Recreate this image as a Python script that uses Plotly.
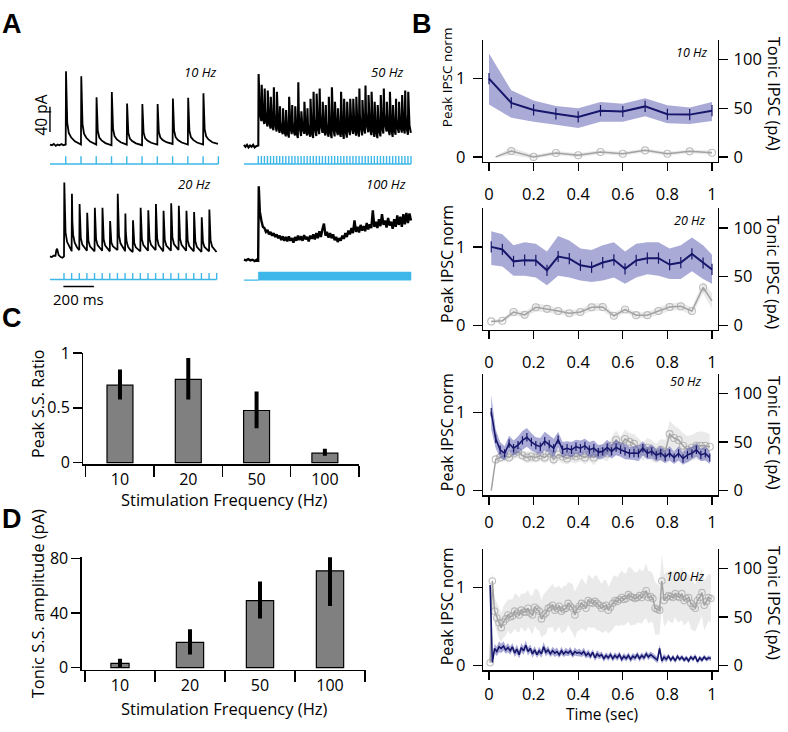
import plotly.graph_objects as go

# ======================= DATA =======================
# ---- Panel A: example traces (ms, pA) ----
stim10 = list(range(0, 1001, 100))
peak10 = [117, 109, 76, 84, 66, 65, 65, 74, 75, 82]
trough10 = [0, 1, 1, 0, 1, 0, 1, 2, 1, 1, 1]
pre10_t = [-103, -90, -78, -65, -52, -40, -28, -15, -4]
pre10_v = [1, 0, 2, -1, 1, 0, 2, 0, 1]

stim20 = list(range(0, 1001, 50))
peak20 = [117, 99, 83, 69, 77, 77, 56, 99, 68, 57,
          77, 73, 83, 72, 84, 80, 72, 70, 62, 74]
trough20 = [0, 9, 10, 9, 8, 9, 8, 10, 9, 7,
            8, 9, 10, 8, 9, 10, 9, 8, 7, 8, 7]
pre20_t = [-92, -80, -68, -56, -50, -45, -35, -22, -10, -2]
pre20_v = [0, -1, 1, 1, 10, 12, 2, -1, -2, -1]

stim50 = list(range(0, 1001, 20))
peak50 = [113, 96, 90, 87, 77, 92, 85, 62, 59, 56,
          77, 64, 62, 100, 54, 69, 59, 74, 85, 82,
          90, 69, 64, 77, 92, 69, 59, 85, 74, 69,
          74, 74, 77, 90, 72, 95, 80, 85, 69, 64,
          80, 90, 69, 85, 64, 74, 69, 80, 87, 85]
trough50 = [0, 40, 34, 30, 28, 24, 22, 20, 18, 16,
            14, 18, 16, 12, 15, 20, 16, 14, 12, 15,
            18, 20, 16, 14, 13, 16, 18, 15, 12, 14,
            18, 20, 17, 14, 16, 19, 21, 18, 15, 13,
            16, 19, 22, 18, 15, 17, 20, 22, 19, 17, 20]
pre50_t = [-94, -84, -74, -64, -54, -44, -34, -24, -14, -4]
pre50_v = [1, -2, 1, -3, 0, -2, 1, -3, -1, 0]

stim100_on = [0, 1000]
t100 = [-94, -80, -66, -52, -38, -24, -10, -1, 3] + list(range(10, 1001, 10))
v100 = [0, -1, 1, -1, 0, -2, 0, -1,
        116, 76, 62, 52, 50, 44, 47, 40, 44, 38,
        42, 36, 40, 34, 38, 31, 37, 30, 36, 29,
        37, 30, 34, 27, 36, 30, 38, 31, 37, 30,
        39, 32, 36, 29, 38, 33, 40, 32, 42, 34,
        45, 36, 48, 57, 38, 44, 35, 42, 34, 40,
        31, 36, 28, 34, 30, 38, 33, 42, 36, 46,
        40, 50, 42, 62, 44, 52, 43, 55, 46, 53,
        45, 58, 48, 56, 50, 78, 52, 60, 50, 64,
        53, 72, 55, 62, 51, 66, 54, 60, 49, 64,
        52, 70, 55, 68, 52, 72, 56, 74, 58, 73,
        62]

# response waveform: ms after stimulus, fraction of peak above next trough
wave10_t = [2, 5, 10, 20, 35, 60, 97]
wave10_f = [1.0, 0.55, 0.3, 0.16, 0.1, 0.045, 0.012]
wave20_t = [2, 5, 10, 20, 35, 49]
wave20_f = [1.0, 0.5, 0.27, 0.13, 0.05, 0.0]
wave50_t = [2, 5, 10, 19]
wave50_f = [1.0, 0.45, 0.18, 0.0]

scale_pA = [21, 61]      # 40 pA bar
scale_ms = [-4, 196]     # 200 ms bar

# ---- Panel B ----
b_ticks = [0, 0.2, 0.4, 0.6, 0.8, 1]
b_ticktext = ['0', '0.2', '0.4', '0.6', '0.8', '1']

b1_x = [0, 0.1, 0.2, 0.3, 0.4, 0.5, 0.6, 0.7, 0.8, 0.9, 1.0]
b1_peak = [1.0, 0.69, 0.60, 0.55, 0.51, 0.59, 0.58, 0.645, 0.545, 0.54, 0.59]
b1_hi = [1.32, 0.85, 0.72, 0.65, 0.62, 0.70, 0.68, 0.75, 0.66, 0.63, 0.70]
b1_lo = [0.67, 0.50, 0.45, 0.41, 0.37, 0.45, 0.45, 0.52, 0.43, 0.42, 0.46]
b1_gx = [0.03, 0.1, 0.2, 0.3, 0.4, 0.5, 0.6, 0.7, 0.8, 0.9, 1.0]
b1_tonic = [0, 6, 0, 4, 1.7, 5, 3.3, 6.7, 3.3, 5.7, 4.3]
b1_tsem = [1, 4, 2, 2, 2, 2, 2, 2, 2, 2, 2]

b2_x = [0.01, 0.06, 0.11, 0.16, 0.21, 0.26, 0.31, 0.36, 0.41, 0.46, 0.51,
        0.56, 0.61, 0.66, 0.71, 0.76, 0.81, 0.86, 0.91, 0.96, 1.0]
b2_peak = [1.0, 0.967, 0.815, 0.83, 0.827, 0.70, 0.877, 0.85, 0.765, 0.74, 0.80,
           0.835, 0.72, 0.827, 0.856, 0.856, 0.774, 0.80, 0.91, 0.794, 0.712]
b2_hi = [1.2, 1.16, 1.02, 1.06, 1.04, 0.94, 1.14, 1.08, 0.98, 0.96, 1.02,
         1.06, 0.94, 1.04, 1.06, 1.06, 0.98, 1.02, 1.12, 1.02, 0.90]
b2_lo = [0.77, 0.75, 0.63, 0.63, 0.61, 0.51, 0.63, 0.61, 0.57, 0.55, 0.57,
         0.61, 0.53, 0.61, 0.65, 0.63, 0.59, 0.59, 0.69, 0.59, 0.53]
b2_tonic = [3.9, 4.5, 13.5, 10.6, 18.4, 16.8, 14.5, 12.3, 13.5, 18.4, 18.7,
            9.7, 16.1, 10.3, 10.3, 14.5, 18.7, 19.4, 14.5, 38.7, 25]
b2_tsem = [1.5, 2, 3, 3, 4, 4, 3, 3, 3, 4, 4, 3, 3, 3, 3, 4, 4, 4, 4, 6, 8]

b3_x = [0.01 + 0.02 * i for i in range(50)]
b3_peak = [1.0, 0.66, 0.52, 0.475, 0.6, 0.54, 0.58, 0.64, 0.68, 0.62,
           0.58, 0.56, 0.63, 0.59, 0.54, 0.65, 0.52, 0.54, 0.52, 0.56,
           0.54, 0.57, 0.52, 0.54, 0.49, 0.50, 0.55, 0.50, 0.55, 0.52,
           0.50, 0.475, 0.48, 0.475, 0.54, 0.475, 0.50, 0.45, 0.48, 0.43,
           0.475, 0.42, 0.475, 0.41, 0.455, 0.475, 0.52, 0.455, 0.475, 0.42]
b3_psem = [0.22, 0.12, 0.10, 0.09, 0.10, 0.10, 0.11, 0.12, 0.12, 0.11,
           0.10, 0.11, 0.12, 0.11, 0.12, 0.10, 0.10, 0.09, 0.10, 0.09,
           0.10, 0.09, 0.10, 0.10, 0.09, 0.09, 0.10, 0.09, 0.10, 0.09,
           0.10, 0.08, 0.09, 0.10, 0.09, 0.08, 0.09, 0.08, 0.09, 0.08,
           0.09, 0.08, 0.09, 0.08, 0.09, 0.08, 0.09, 0.08, 0.09, 0.08]
b3_tonic = [0, 32, 34, 36, 34, 38, 40, 36, 34, 35,
            34, 36, 34, 38, 32, 37, 35, 33, 36, 35,
            36, 34, 37, 34, 38, 40, 38, 46, 52, 46,
            53, 50, 48, 43, 40, 44, 41, 38, 42, 40,
            58, 54, 52, 46, 42, 44, 46, 46, 46, 45]
b3_tsem = [0, 5, 5, 6, 5, 6, 6, 5, 6, 6,
           5, 6, 6, 7, 6, 6, 7, 6, 7, 7,
           6, 7, 7, 8, 7, 8, 8, 9, 10, 9,
           10, 9, 10, 10, 9, 10, 11, 10, 11, 12,
           14, 13, 12, 13, 14, 13, 14, 15, 14, 13]

b4_x = [0.005 + 0.01 * i for i in range(100)]
b4_peak = [1.03, 0.04, 0.22, 0.18, 0.24, 0.22, 0.25, 0.20, 0.23, 0.19,
           0.24, 0.16, 0.21, 0.14, 0.23, 0.19, 0.26, 0.18, 0.22, 0.15,
           0.20, 0.14, 0.19, 0.15, 0.24, 0.17, 0.20, 0.15, 0.19, 0.16,
           0.18, 0.14, 0.19, 0.15, 0.18, 0.16, 0.19, 0.14, 0.18, 0.16,
           0.17, 0.15, 0.18, 0.13, 0.16, 0.12, 0.17, 0.10, 0.15, 0.12,
           0.14, 0.09, 0.13, 0.10, 0.14, 0.09, 0.13, 0.10, 0.14, 0.08,
           0.12, 0.09, 0.13, 0.08, 0.12, 0.10, 0.14, 0.09, 0.13, 0.10,
           0.15, 0.11, 0.14, 0.12, 0.10, 0.07, 0.22, 0.06, 0.11, 0.08,
           0.12, 0.07, 0.11, 0.06, 0.12, 0.08, 0.11, 0.07, 0.10, 0.06,
           0.11, 0.08, 0.12, 0.05, 0.10, 0.07, 0.11, 0.08, 0.10, 0.09]
b4_psem = [0.08, 0.03, 0.06, 0.06, 0.07, 0.06, 0.06, 0.05, 0.06, 0.05,
           0.05, 0.05, 0.06, 0.05, 0.06, 0.05, 0.06, 0.05, 0.05, 0.05,
           0.05, 0.04, 0.05, 0.05, 0.06, 0.05, 0.05, 0.04, 0.05, 0.05,
           0.05, 0.04, 0.05, 0.04, 0.05, 0.04, 0.05, 0.04, 0.05, 0.04,
           0.05, 0.04, 0.05, 0.04, 0.05, 0.04, 0.04, 0.04, 0.05, 0.04,
           0.04, 0.04, 0.04, 0.04, 0.04, 0.04, 0.04, 0.04, 0.04, 0.04,
           0.04, 0.04, 0.04, 0.04, 0.04, 0.04, 0.04, 0.04, 0.04, 0.04,
           0.04, 0.04, 0.04, 0.04, 0.04, 0.04, 0.05, 0.04, 0.04, 0.04,
           0.03, 0.03, 0.03, 0.03, 0.03, 0.03, 0.03, 0.03, 0.03, 0.03,
           0.03, 0.03, 0.03, 0.03, 0.03, 0.03, 0.03, 0.03, 0.03, 0.03]
b4_tonic = [3, 87, 56, 49, 44, 39, 45, 48, 52, 50,
            51, 56, 54, 52, 57, 55, 55, 59, 54, 52,
            60, 58, 56, 48, 52, 54, 59, 60, 62, 57,
            59, 61, 56, 58, 59, 64, 61, 59, 52, 58,
            61, 64, 62, 59, 67, 65, 64, 66, 64, 62,
            59, 61, 62, 57, 60, 64, 67, 66, 68, 70,
            68, 69, 73, 71, 70, 69, 70, 72, 70, 73,
            77, 70, 71, 69, 59, 58, 57, 87, 67, 70,
            72, 71, 70, 74, 71, 70, 74, 67, 69, 70,
            64, 61, 59, 67, 70, 75, 62, 66, 70, 69]
b4_tsem = [2, 10, 14, 15, 16, 15, 16, 17, 16, 18,
           17, 18, 19, 18, 17, 19, 20, 19, 18, 20,
           19, 21, 20, 19, 21, 22, 20, 21, 22, 23,
           22, 21, 23, 24, 23, 22, 24, 25, 24, 23,
           25, 26, 25, 24, 27, 26, 25, 27, 28, 26,
           25, 27, 26, 24, 25, 27, 26, 25, 27, 28,
           27, 26, 28, 30, 28, 27, 26, 28, 27, 26,
           28, 27, 26, 25, 27, 26, 25, 28, 27, 26,
           25, 27, 26, 24, 26, 25, 27, 26, 25, 24,
           26, 25, 24, 26, 25, 24, 26, 25, 24, 25]

# ---- Panels C & D ----
freq_labels = ['10', '20', '50', '100']
c_ratio = [0.707, 0.76, 0.476, 0.086]
c_hi = [0.85, 0.955, 0.65, 0.127]
c_lo = [0.577, 0.577, 0.314, 0.062]
d_tonic = [3.1, 18.5, 49.0, 70.8]
d_hi = [6.4, 28.0, 63.0, 82.4]
d_lo = [0.0, 9.5, 36.0, 45.0]

# ======================= STYLE / LAYOUT =======================
W, H = 788, 732
FONT = "Open Sans"
NAVY = "#16166b"
BAND = "rgba(100,100,182,0.55)"
GREY = "#a2a2a2"
GBAND = "rgba(185,185,185,0.30)"
STIM = "#3db7e8"


def dxp(a, b):
    return [a / W, b / W]


def dyp(top, bot):
    return [1 - bot / H, 1 - top / H]


def sfx(n):
    return '' if n == 1 else str(n)


layout = dict(width=W, height=H, margin=dict(l=0, r=0, t=0, b=0),
              paper_bgcolor='white', plot_bgcolor='rgba(0,0,0,0)', showlegend=False,
              font=dict(family=FONT, size=16, color='black'))
traces = []

# ---------- Panel A axes ----------
MS_PX = 0.1527      # px per ms
PA_PX = 1 / 1.538   # px per pA
A_panels = [(1, 45, 222, 45, 165, 65.7, 138.0),
            (2, 238, 418, 45, 165, 258.3, 138.3),
            (3, 45, 222, 165, 300, 64.0, 252.3),
            (4, 238, 418, 165, 300, 258.3, 255.7)]
for n, x0, x1, tp, bt, zx, zy in A_panels:
    layout['xaxis' + sfx(n)] = dict(domain=dxp(x0, x1), range=[(x0 - zx) / MS_PX, (x1 - zx) / MS_PX],
                                    visible=False, anchor='y' + sfx(n), fixedrange=True)
    layout['yaxis' + sfx(n)] = dict(domain=dyp(tp, bt), range=[-(bt - zy) / PA_PX, (zy - tp) / PA_PX],
                                    visible=False, anchor='x' + sfx(n), fixedrange=True)


def build(pre_t, pre_v, stims, peaks, troughs, wt, wf):
    t, v = list(pre_t), list(pre_v)
    for k, (s, p) in enumerate(zip(stims, peaks)):
        nxt = troughs[k + 1]
        t.append(s)
        v.append(troughs[k])
        for o, f in zip(wt, wf):
            t.append(s + o)
            v.append(nxt + f * (p - nxt))
    return t, v


def line(x, y, xa, ya, color='black', width=1.8):
    return go.Scatter(x=x, y=y, mode='lines', line=dict(color=color, width=width),
                      xaxis=xa, yaxis=ya, hoverinfo='skip')


def stim_trace(stims, t0, lo, hi, xa, ya):
    xs, ys = [t0, stims[-1], None], [lo, lo, None]
    for s in stims:
        xs += [s, s, None]
        ys += [lo, hi, None]
    return go.Scatter(x=xs, y=ys, mode='lines', line=dict(color=STIM, width=1.4),
                      xaxis=xa, yaxis=ya, hoverinfo='skip')


t, v = build(pre10_t, pre10_v, stim10, peak10, trough10, wave10_t, wave10_f)
traces.append(line(t, v, 'x', 'y'))
traces.append(stim_trace(stim10, pre10_t[0], -29.7, -17.4, 'x', 'y'))
traces.append(line([pre10_t[0], pre10_t[0]], scale_pA, 'x', 'y', width=1.4))

t, v = build(pre50_t, pre50_v, stim50, peak50, trough50, wave50_t, wave50_f)
traces.append(line(t, v, 'x2', 'y2', width=2.1))
traces.append(stim_trace(stim50, pre50_t[0], -29.2, -16.5, 'x2', 'y2'))

t, v = build(pre20_t, pre20_v, stim20, peak20, trough20, wave20_t, wave20_f)
traces.append(line(t, v, 'x3', 'y3'))
traces.append(stim_trace(stim20, pre20_t[0], -36.5, -26.1, 'x3', 'y3'))
traces.append(line(scale_ms, [-47.7, -47.7], 'x3', 'y3', width=1.4))

traces.append(line(t100, v100, 'x4', 'y4', width=2.4))
traces.append(line([t100[0], stim100_on[0]], [-32.3, -32.3], 'x4', 'y4', color=STIM, width=1.4))
traces.append(go.Scatter(x=[stim100_on[0], stim100_on[1], stim100_on[1], stim100_on[0], stim100_on[0]],
                         y=[-32.3, -32.3, -19.4, -19.4, -32.3], mode='lines', fill='toself',
                         fillcolor=STIM, line=dict(color=STIM, width=0.5),
                         xaxis='x4', yaxis='y4', hoverinfo='skip'))

# ---------- Panel B ----------
axstyle = dict(showline=True, linecolor='black', linewidth=1.3, ticks='outside', tickcolor='black',
               tickwidth=1.3, showgrid=False, zeroline=False, fixedrange=True,
               tickfont=dict(size=16.5, color='black'))
B_rows = [(30, 155, 9), (203, 328, 9), (373, 498, 4), (553, 678, 0)]
bx_range = [(483 - 489) / 223, (718 - 489) / 223]
for r, (tp, bt, stand) in enumerate(B_rows):
    xn, yg, yb = 7 + r, 7 + 2 * r, 8 + 2 * r
    layout['xaxis%d' % xn] = dict(domain=dxp(483, 718), range=bx_range, anchor='y%d' % yg,
                                  tickvals=b_ticks, ticktext=b_ticktext, ticklen=8,
                                  ticklabelstandoff=stand, **axstyle)
    layout['yaxis%d' % yg] = dict(domain=dyp(tp, bt), range=[-5, 120], anchor='x%d' % xn, side='right',
                                  tickvals=[0, 50, 100], ticklen=9, ticklabelstandoff=2, **axstyle)
    layout['yaxis%d' % yb] = dict(overlaying='y%d' % yg, range=[-5 / 80.5, 120 / 80.5], anchor='x%d' % xn,
                                  side='left', tickvals=[0, 1], ticklen=9, ticklabelstandoff=4, **axstyle)


def band(x, lo, hi, xa, ya, color):
    return go.Scatter(x=list(x) + list(x)[::-1], y=list(hi) + list(lo)[::-1], mode='lines', fill='toself',
                      fillcolor=color, line=dict(width=0), xaxis=xa, yaxis=ya, hoverinfo='skip')


def grey_series(x, y, sizes, xa, ya):
    return go.Scatter(x=x, y=y, mode='lines+markers', line=dict(color=GREY, width=1.5),
                      marker=dict(symbol='circle-open', size=sizes, color=GREY, line=dict(width=1.1, color=GREY)),
                      xaxis=xa, yaxis=ya, hoverinfo='skip')


def blue_series(x, y, xa, ya, msize, width):
    mode = 'lines+markers' if msize else 'lines'
    return go.Scatter(x=x, y=y, mode=mode, line=dict(color=NAVY, width=width),
                      marker=dict(symbol='line-ns-open', size=msize, color=NAVY, line=dict(width=1.2, color=NAVY)),
                      xaxis=xa, yaxis=ya, hoverinfo='skip')


def pm(vals, sems, sign):
    return [a + sign * s for a, s in zip(vals, sems)]


rows = [
    (b1_gx, b1_tonic, b1_tsem, [0] + [7] * 10, b1_x, b1_peak, b1_lo, b1_hi, 8, 2.0),
    (b2_x, b2_tonic, b2_tsem, [7] * 20 + [0], b2_x, b2_peak, b2_lo, b2_hi, 8, 2.0),
    (b3_x, b3_tonic, b3_tsem, [0] + [7] * 49, b3_x, b3_peak, pm(b3_peak, b3_psem, -1), pm(b3_peak, b3_psem, 1), 6, 1.6),
    (b4_x, b4_tonic, b4_tsem, [6.5] * 100, b4_x, b4_peak, pm(b4_peak, b4_psem, -1), pm(b4_peak, b4_psem, 1), 0, 1.6),
]
for r, (gx, gy, gs, gsz, px_, py_, plo, phi, msz, lw) in enumerate(rows):
    xa, yg, yb = 'x%d' % (7 + r), 'y%d' % (7 + 2 * r), 'y%d' % (8 + 2 * r)
    traces.append(band(gx, pm(gy, gs, -1), pm(gy, gs, 1), xa, yg, GBAND))
    traces.append(grey_series(gx, gy, gsz, xa, yg))
    traces.append(band(px_, plo, phi, xa, yb, BAND))
    traces.append(blue_series(px_, py_, xa, yb, msz, lw))

# ---------- Panels C & D ----------
cat_x = [0, 1, 2, 3]
for n, dom_x, dom_y, xr, yr, ytv in [
        (5, dxp(83.3, 359.3), dyp(351.7, 466), [-0.537, 3.504], [-0.015, 1.0], [0, 0.5, 1]),
        (6, dxp(81.7, 365.7), dyp(561.7, 677.7), [-0.547, 3.51], [-1.9, 80.7], [0, 40, 80])]:
    st = dict(axstyle)
    st['tickfont'] = dict(size=16, color='black')
    layout['xaxis%d' % n] = dict(domain=dom_x, range=xr, anchor='y%d' % n, tickvals=cat_x,
                                 ticktext=freq_labels, **{**st, 'ticks': ''},
                                 ticklabelstandoff=0,
                                 minor=dict(tickvals=[-0.5, 0.5, 1.5, 2.5, 3.5], ticks='outside',
                                            ticklen=11, tickwidth=1.3, tickcolor='black'))
    layout['yaxis%d' % n] = dict(domain=dom_y, range=yr, anchor='x%d' % n, tickvals=ytv,
                                 ticktext=[('%g' % t_) for t_ in ytv], ticklen=9, **st)

traces.append(go.Bar(x=cat_x, y=c_ratio, width=0.38, xaxis='x5', yaxis='y5',
                     marker=dict(color='#808080', line=dict(color='black', width=1.2)),
                     error_y=dict(type='data', symmetric=False,
                                  array=[h - v_ for h, v_ in zip(c_hi, c_ratio)],
                                  arrayminus=[v_ - l for l, v_ in zip(c_lo, c_ratio)],
                                  thickness=4, width=0, color='black'), hoverinfo='skip'))
traces.append(go.Bar(x=cat_x, y=d_tonic, width=[0.26, 0.39, 0.39, 0.39], xaxis='x6', yaxis='y6',
                     marker=dict(color='#808080', line=dict(color='black', width=1.2)),
                     error_y=dict(type='data', symmetric=False,
                                  array=[h - v_ for h, v_ in zip(d_hi, d_tonic)],
                                  arrayminus=[v_ - l for l, v_ in zip(d_lo, d_tonic)],
                                  thickness=4, width=0, color='black'), hoverinfo='skip'))

# ---------- Annotations ----------
anns = []


def ann(text, x, y, size, angle=0, xanchor='center', family=FONT):
    anns.append(dict(text=text, x=x / W, y=1 - y / H, xref='paper', yref='paper', showarrow=False,
                     xanchor=xanchor, yanchor='middle', textangle=angle, borderpad=0,
                     font=dict(size=size, family=family, color='black')))


for letter, x, y in [('A', 12, 13), ('B', 422, 13), ('C', 12, 316), ('D', 12, 522)]:
    ann('<b>%s</b>' % letter, x, y, 27, family='Liberation Sans')

for txt, x, y in [('10 Hz', 218, 63), ('50 Hz', 405, 63), ('20 Hz', 212, 178), ('100 Hz', 407, 178)]:
    ann('<i>%s</i>' % txt, x, y, 13, xanchor='right')
for txt, x, y in [('10 Hz', 709, 43), ('20 Hz', 707, 215), ('50 Hz', 703, 381), ('100 Hz', 705, 581)]:
    ann('<i>%s</i>' % txt, x, y, 12.5, xanchor='right')

ann('40 pA', 41.5, 107, 15.5, angle=-90)
ann('200 ms', 78, 296, 15)

for y, s in [(68, 13.5), (260, 16), (433, 16), (612, 16)]:
    ann('Peak IPSC norm', 447, y, s, angle=-90)
for y in [85, 268.5, 433.5, 608.5]:
    ann('Tonic IPSC (pA)', 774, y, 16.5, angle=90)
ann('Time (sec)', 601.7, 722.5, 15.5)

ann('Peak S.S. Ratio', 38, 404, 16, angle=-90)
ann('Stimulation Frequency (Hz)', 224, 502, 16.5)
ann('Tonic S.S. amplitude (pA)', 37, 610, 16.5, angle=-90)
ann('Stimulation Frequency (Hz)', 224, 717, 16.5)

layout['annotations'] = anns
fig = go.Figure(data=traces, layout=layout)
fig.write_html("out.html",
               config={'displayModeBar': False, 'staticPlot': True},
               post_script="document.body.style.margin='0px';document.body.style.padding='0px';"
                           "document.body.style.overflow='hidden';")
